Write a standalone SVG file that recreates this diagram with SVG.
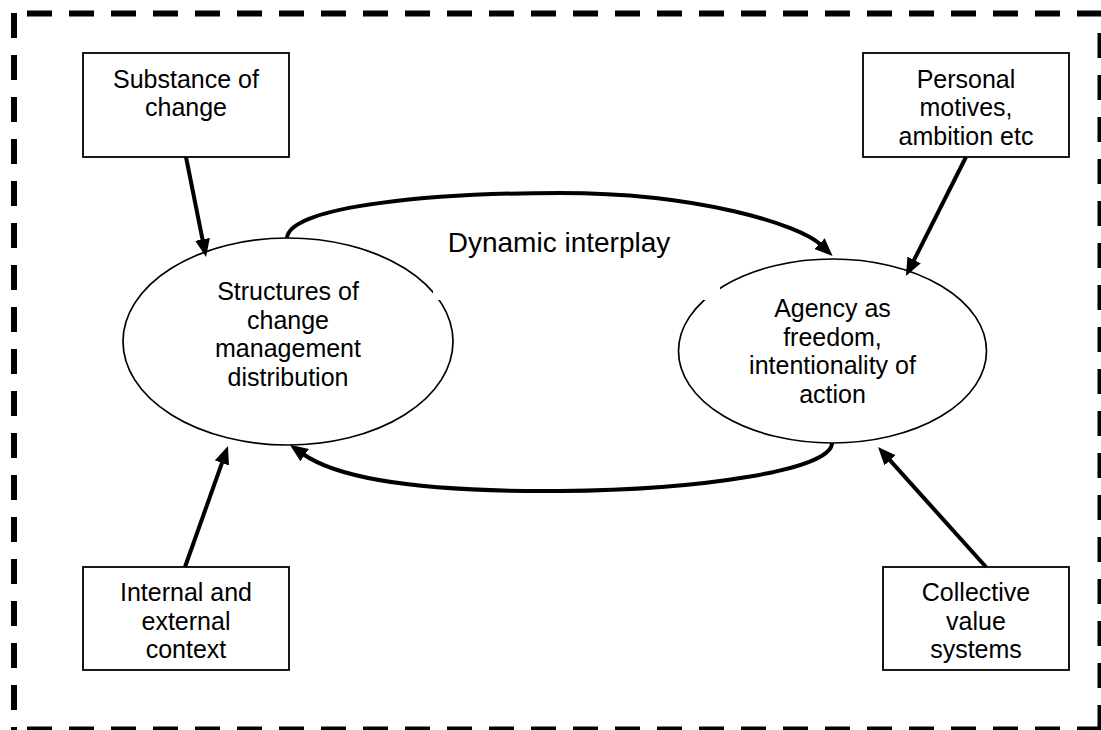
<svg xmlns="http://www.w3.org/2000/svg" width="1101" height="730" viewBox="0 0 1101 730">
<style>
.frame{stroke:#000;stroke-width:6;fill:none;stroke-dasharray:25 17}
.box{fill:#fff;stroke:#000;stroke-width:1.8}
.ell{fill:#fff;stroke:#000;stroke-width:1.7}
.t{font-family:"Liberation Sans",Arial,sans-serif;font-size:25px;fill:#000;text-anchor:middle}
.lbl{font-family:"Liberation Sans",Arial,sans-serif;font-size:28px;fill:#000;text-anchor:middle}
.con{stroke:#000;stroke-width:4;fill:none;marker-end:url(#ah)}
</style>
<defs>
<marker id="ah" markerUnits="userSpaceOnUse" markerWidth="20" markerHeight="16" refX="2" refY="7.5" orient="auto">
<path d="M0,0 L18,7.5 L0,15 z" fill="#000"/>
</marker>
</defs>
<rect width="1101" height="730" fill="#fff"/>
<g id="frame">
<line class="frame" x1="27" y1="13.5" x2="1101" y2="13.5"/>
<line class="frame" x1="14" y1="13" x2="14" y2="730"/>
<line class="frame" x1="1100.5" y1="33" x2="1100.5" y2="730"/>
<line class="frame" x1="27" y1="729.5" x2="1101" y2="729.5"/>
</g>
<g id="substance">
<rect class="box" x="83" y="53" width="206" height="104"/>
<text class="t" x="186" y="87.5">Substance of</text>
<text class="t" x="186" y="116">change</text>
</g>
<g id="personal">
<rect class="box" x="863" y="53" width="206" height="104"/>
<text class="t" x="966" y="87.5">Personal</text>
<text class="t" x="966" y="116">motives,</text>
<text class="t" x="966" y="144.5">ambition etc</text>
</g>
<g id="internal">
<rect class="box" x="83" y="567" width="206" height="103"/>
<text class="t" x="186" y="601">Internal and</text>
<text class="t" x="186" y="629.7">external</text>
<text class="t" x="186" y="658.4">context</text>
</g>
<g id="collective">
<rect class="box" x="883" y="567" width="186" height="103"/>
<text class="t" x="976" y="601">Collective</text>
<text class="t" x="976" y="629.7">value</text>
<text class="t" x="976" y="658.4">systems</text>
</g>
<g id="structures">
<ellipse class="ell" cx="288" cy="341.5" rx="165" ry="103.5"/>
<text class="t" x="288" y="300">Structures of</text>
<text class="t" x="288" y="328.5">change</text>
<text class="t" x="288" y="357">management</text>
<text class="t" x="288" y="385.5">distribution</text>
</g>
<g id="agency">
<ellipse class="ell" cx="832.5" cy="351" rx="154" ry="92"/>
<text class="t" x="832.5" y="317">Agency as</text>
<text class="t" x="832.5" y="345.7">freedom,</text>
<text class="t" x="832.5" y="374.4">intentionality of</text>
<text class="t" x="832.5" y="403">action</text>
</g>
<g id="interplay">
<rect x="433" y="222" width="287" height="78" fill="#fff"/>
<text class="lbl" x="559" y="252">Dynamic interplay</text>
</g>
<g id="connectors">
<line class="con" x1="186" y1="157" x2="202.9" y2="241.3"/>
<line class="con" x1="966" y1="157" x2="913.2" y2="261.7"/>
<line class="con" x1="185" y1="567" x2="222.6" y2="461.1"/>
<line class="con" x1="986" y1="567" x2="888.7" y2="458.9"/>
<path class="con" d="M287,238 C289,205 440,193 560,193 C700,193 800,225 821,245"/>
<path class="con" d="M832,443 C832,470 700,490 560,491 C430,492 340,480 303,454"/>
</g>
</svg>
